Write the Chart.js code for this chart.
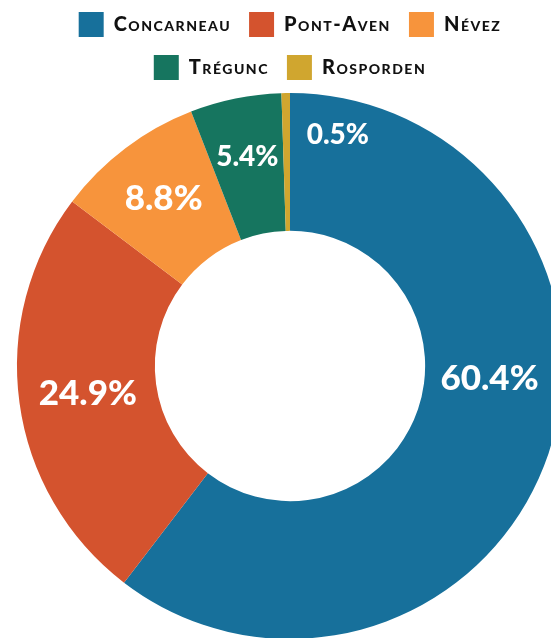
<!DOCTYPE html>
<html>
<head>
<meta charset="utf-8">
<script src="https://cdn.jsdelivr.net/npm/chart.js@4.4.1/dist/chart.umd.min.js"></script>
<style>
  html, body { margin: 0; padding: 0; background: #fff; overflow: hidden; width: 551px; height: 638px; }
  #wrap { position: absolute; left: 0; top: -6px; width: 580px; height: 645px; }
</style>
</head>
<body>
<div id="wrap"><canvas id="shareChart"></canvas></div>
<script>
// Répartition par commune
const communes = ['Concarneau', 'Pont-Aven', 'Névez', 'Trégunc', 'Rosporden'];
const shares = [60.4, 24.9, 8.8, 5.4, 0.5];
const sliceColors = ['#17709b', '#d4532e', '#f7943c', '#16755f', '#d0a62f'];

Chart.defaults.font.family = "Lato, sans-serif";

const LEGEND_SPACING = '1.5px';

// legend box is a bit taller in the original, and letters are spaced out
const legendGap = {
    id: 'legendGap',
    beforeLayout(chart) {
        chart.ctx.letterSpacing = LEGEND_SPACING;
        const legend = chart.legend;
        if (legend && !legend._gapPatched) {
            const fit = legend.fit;
            legend.fit = function () {
                fit.call(this);
                this.height += 3;
            };
            legend._gapPatched = true;
        }
    },
    beforeDraw(chart) {
        chart.ctx.letterSpacing = LEGEND_SPACING;
    }
};

// percentage labels inside the slices
const pctLabels = {
    id: 'pctLabels',
    afterDatasetsDraw(chart, args, opts) {
        const ctx = chart.ctx;
        const meta = chart.getDatasetMeta(0);
        meta.data.forEach((arc, i) => {
            const p = arc.getProps(['x', 'y', 'startAngle', 'endAngle', 'innerRadius', 'outerRadius'], true);
            const nudge = opts.nudge[i] || {};
            const a = (p.startAngle + p.endAngle) / 2 + (nudge.angle || 0) * Math.PI / 180;
            const r = p.innerRadius + (p.outerRadius - p.innerRadius) * (nudge.radius ?? 0.53);
            const size = shares[i] >= 8 ? 35 : 28;
            ctx.save();
            ctx.letterSpacing = '0px';
            ctx.font = `900 ${size}px Lato`;
            ctx.fillStyle = '#ffffff';
            ctx.textAlign = 'center';
            ctx.textBaseline = 'middle';
            ctx.fillText(shares[i].toFixed(1) + '%', p.x + Math.cos(a) * r, p.y + Math.sin(a) * r);
            ctx.restore();
        });
    }
};

const ctx = document.getElementById('shareChart').getContext('2d');
new Chart(ctx, {
    type: 'doughnut',
    data: {
        labels: communes,
        datasets: [{
            data: shares,
            backgroundColor: sliceColors,
            borderWidth: 0,
            hoverOffset: 0
        }]
    },
    options: {
        responsive: true,
        maintainAspectRatio: false,
        animation: false,
        events: [],
        cutout: '49.5%',
        layout: { padding: 0 },
        plugins: {
            legend: {
                position: 'top',
                labels: {
                    boxWidth: 25,
                    boxHeight: 25,
                    padding: 18,
                    color: '#111111',
                    font: { size: 20, weight: 'small-caps 900' }
                }
            },
            tooltip: { enabled: false },
            pctLabels: {
                nudge: [
                    { angle: -15, radius: 0.47 },
                    { radius: 0.5 },
                    { radius: 0.54 },
                    { radius: 0.57 },
                    { angle: 12.6, radius: 0.73 }
                ]
            }
        }
    },
    plugins: [legendGap, pctLabels]
});
</script>
</body>
</html>
